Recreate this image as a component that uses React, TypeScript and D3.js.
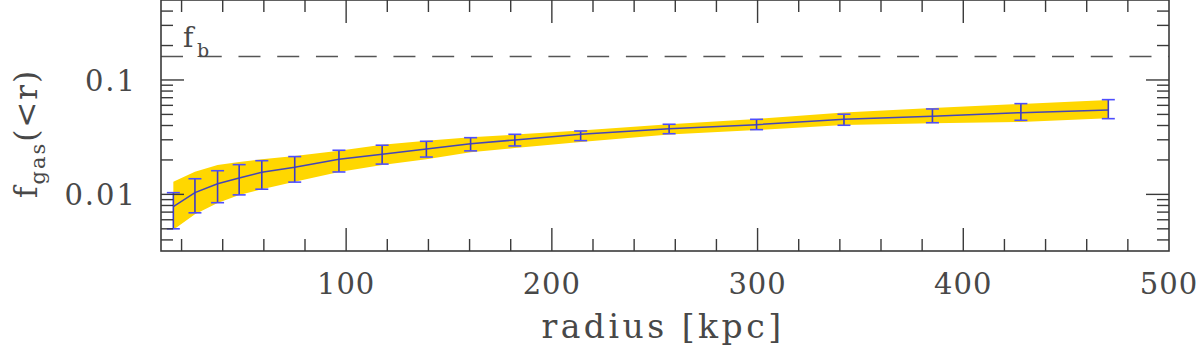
import React from 'react';
import * as d3 from 'd3';

// radius of each bin [kpc]
const radius = [16, 26.5, 37.5, 48, 59, 75, 96.5, 117.5, 139, 160.5, 182, 214, 257, 299.5, 342, 385, 428, 470.5];
// gas fraction and error bar limits
const fgas = [0.0078, 0.01035, 0.0124, 0.0139, 0.0156, 0.0173, 0.0203, 0.0224, 0.0249, 0.0277, 0.0299, 0.0335, 0.0375, 0.0407, 0.0453, 0.0482, 0.0518, 0.0547];
const fgasHi = [0.01035, 0.0137, 0.0161, 0.0182, 0.0197, 0.0214, 0.0243, 0.0269, 0.0291, 0.0313, 0.0335, 0.0358, 0.041, 0.0453, 0.0502, 0.0558, 0.0621, 0.0673];
const fgasLo = [0.0050, 0.0069, 0.00846, 0.0099, 0.0111, 0.0128, 0.0157, 0.0184, 0.0212, 0.024, 0.0265, 0.0295, 0.0339, 0.0368, 0.0402, 0.0423, 0.0444, 0.0459];
// shaded band
const bandHi = [0.0129, 0.0158, 0.0181, 0.0192, 0.0203, 0.0217, 0.0241, 0.0272, 0.0295, 0.0316, 0.0333, 0.0362, 0.041, 0.0457, 0.0519, 0.057, 0.0617, 0.0669];
const bandLo = [0.0049, 0.0067, 0.0084, 0.0099, 0.0111, 0.0129, 0.0157, 0.0181, 0.0203, 0.0234, 0.0254, 0.0287, 0.0333, 0.0365, 0.0404, 0.0419, 0.0429, 0.0463];

const fBaryon = 0.16;
const xTickLabels = [100, 200, 300, 400, 500];
const yTickLabels = [0.01, 0.1];

const App = () => {
  const width = 1200;
  const height = 352;
  const plot = { left: 161, right: 1169, top: 0, bottom: 251 };
  const ink = '#3a3a3a';
  const txt = '#484848';
  const textStyle = { fontFamily: "'DejaVu Serif'", fontWeight: 300 };

  const xScale = d3.scaleLinear().domain([10, 500]).range([plot.left, plot.right]);
  const yScale = d3.scaleLog().domain([0.0032, 0.5]).range([plot.bottom, plot.top]);

  const pts = radius.map((r, i) => ({ r, v: fgas[i], hi: fgasHi[i], lo: fgasLo[i], bh: bandHi[i], bl: bandLo[i] }));

  const band = d3.area<any>()
    .x(d => xScale(d.r))
    .y0(d => yScale(d.bl))
    .y1(d => yScale(d.bh));

  const line = d3.line<any>()
    .x(d => xScale(d.r))
    .y(d => yScale(d.v));

  // ticks
  const xTicks = d3.range(20, 500, 20);
  const yTicks: number[] = [];
  [0.001, 0.01, 0.1].forEach(dec => {
    for (let m = 1; m < 10; m++) {
      const v = dec * m;
      if (v > 0.0032 && v < 0.5) yTicks.push(v);
    }
  });
  const isMajorY = (v: number) => yTickLabels.some(t => Math.abs(t - v) < 1e-9);

  return (
    <svg width={width} height={height} style={{ position: 'absolute', left: 0, top: 0 }}>
      <rect x={0} y={0} width={width} height={height} fill='white' />

      <path d={band(pts) as string} fill='#FFD700' stroke='none' />
      <path d={line(pts) as string} fill='none' stroke='#4545b8' strokeWidth={1.5} />

      {pts.map((d, i) => (
        <g key={i}>
          <line x1={xScale(d.r)} x2={xScale(d.r)} y1={yScale(d.lo)} y2={yScale(d.hi)} stroke='#3c3cc8' strokeWidth={1.6} />
          <line x1={xScale(d.r) - 6.5} x2={xScale(d.r) + 6.5} y1={yScale(d.lo)} y2={yScale(d.lo)} stroke='#4d4dff' strokeWidth={1.6} />
          <line x1={xScale(d.r) - 6.5} x2={xScale(d.r) + 6.5} y1={yScale(d.hi)} y2={yScale(d.hi)} stroke='#4d4dff' strokeWidth={1.6} />
        </g>
      ))}

      {/* baryon fraction */}
      <line x1={plot.left} x2={plot.right} y1={yScale(fBaryon)} y2={yScale(fBaryon)}
        stroke='#555' strokeWidth={1.5} strokeDasharray='22 16.74' />
      <text x={183} y={46.5} style={textStyle} fontSize={28} fill={txt}>f</text>
      <text x={197} y={56.5} style={textStyle} fontSize={19} fill={txt}>b</text>

      {/* x ticks, bottom and top */}
      {xTicks.map(t => {
        const len = t % 100 === 0 ? 23 : 12;
        return (
          <g key={'x' + t}>
            <line x1={xScale(t)} x2={xScale(t)} y1={plot.bottom} y2={plot.bottom - len} stroke={ink} strokeWidth={1.4} />
            <line x1={xScale(t)} x2={xScale(t)} y1={plot.top} y2={plot.top + len} stroke={ink} strokeWidth={1.4} />
          </g>
        );
      })}
      {/* y ticks, left and right */}
      {yTicks.map(t => {
        const len = isMajorY(t) ? 23 : 12;
        return (
          <g key={'y' + t}>
            <line x1={plot.left} x2={plot.left + len} y1={yScale(t)} y2={yScale(t)} stroke={ink} strokeWidth={1.4} />
            <line x1={plot.right} x2={plot.right - len} y1={yScale(t)} y2={yScale(t)} stroke={ink} strokeWidth={1.4} />
          </g>
        );
      })}

      <rect x={plot.left} y={plot.top} width={plot.right - plot.left} height={plot.bottom - plot.top}
        fill='none' stroke={ink} strokeWidth={1.6} />

      {xTickLabels.map(t => (
        <text key={'xl' + t} x={xScale(t)} y={294} textAnchor='middle' style={textStyle} fontSize={29}
          letterSpacing={1} fill={txt}>{t}</text>
      ))}
      {yTickLabels.map(t => (
        <text key={'yl' + t} x={137} y={yScale(t) + 11} textAnchor='end' style={textStyle} fontSize={29}
          letterSpacing={2} fill={txt}>{t}</text>
      ))}

      <text x={(plot.left + plot.right) / 2 - 2} y={338} textAnchor='middle' style={textStyle} fontSize={33}
        letterSpacing={3.5} fill={txt}>radius [kpc]</text>

      <g transform='translate(37, 198) rotate(-90)'>
        <text x={0} y={0} style={textStyle} fontSize={31} letterSpacing={2} fill={txt}>
          f<tspan fontSize={21} dy={8}>gas</tspan><tspan dy={-8}>(&lt;r)</tspan>
        </text>
      </g>
    </svg>
  );
};

export default App;
